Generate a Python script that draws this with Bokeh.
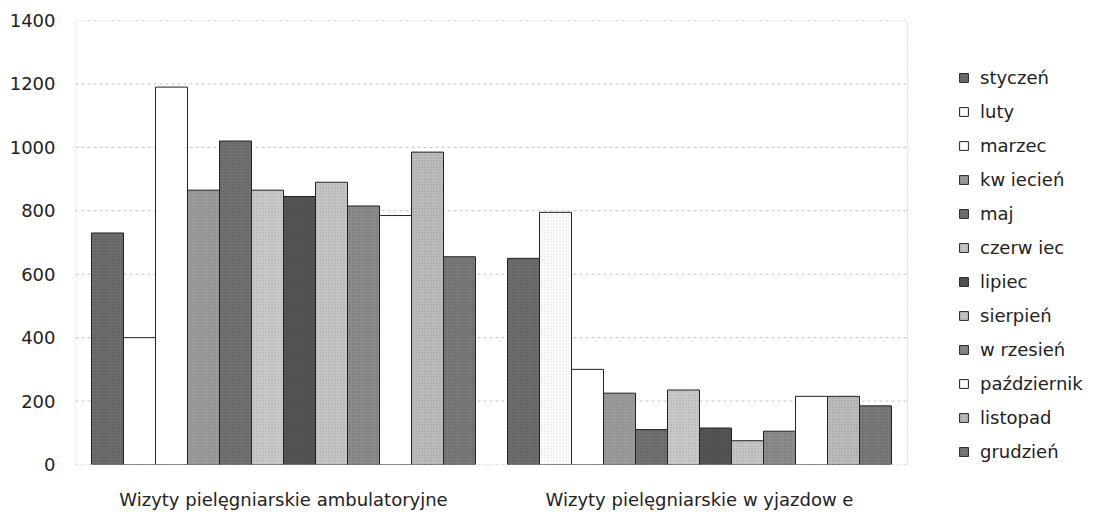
from bokeh.plotting import figure
from bokeh.models import ColumnDataSource, Legend, LegendItem, FixedTicker, Range1d
from bokeh.embed import file_html
from bokeh.resources import INLINE

categories = ["Wizyty pielęgniarskie ambulatoryjne", "Wizyty pielęgniarskie w yjazdow e"]
months = ["styczeń", "luty", "marzec", "kw iecień", "maj", "czerw iec", "lipiec",
          "sierpień", "w rzesień", "październik", "listopad", "grudzień"]
ambulatoryjne = [730, 400, 1190, 865, 1020, 865, 845, 890, 815, 785, 985, 655]
wyjazdowe = [650, 795, 300, 225, 110, 235, 115, 75, 105, 215, 215, 185]
y_ticks = [0, 200, 400, 600, 800, 1000, 1200, 1400]

colors = ["#6e6e6e", "#ffffff", "#ffffff", "#9c9c9c", "#727272", "#cacaca", "#545454",
          "#c6c6c6", "#8c8c8c", "#ffffff", "#bebebe", "#7a7a7a"]
speckle = ["#3c3c3c", "#c0c0c0", None, "#6a6a6a", "#444444", "#8a8a8a", "#333333",
           "#8a8a8a", "#5a5a5a", None, "#808080", "#4a4a4a"]
# texture strength per group (luty is plain in the first group, speckled in the second)
speckle_alpha = [[0.55, 0.55], [0.0, 0.6], [0, 0], [0.55, 0.55], [0.55, 0.55], [0.55, 0.55],
                 [0.55, 0.55], [0.55, 0.55], [0.55, 0.55], [0, 0], [0.55, 0.55], [0.55, 0.55]]

FONT = "DejaVu Sans"
W, H = 1087, 512
PX = 32.0                       # pixels per bar slot
X_END = (W - 75) / PX           # frame spans whole width right of the y labels
p = figure(width=W, height=H, output_backend="svg", toolbar_location=None,
           x_range=Range1d(0, X_END), y_range=Range1d(0, 1400),
           min_border_left=75, min_border_top=20, min_border_bottom=48, min_border_right=0)

n_slots = 2 * (len(months) + 1)   # 26 slots: chart area
group_centers = [6.5, 19.5]

# grid lines and dotted plot-area outline limited to the chart area
p.segment(x0=[0] * len(y_ticks), x1=[n_slots] * len(y_ticks), y0=y_ticks, y1=y_ticks,
          line_color="#9a9a9a", line_dash="3 3", line_alpha=0.6, line_width=1)
p.segment(x0=[0, n_slots], x1=[0, n_slots], y0=[0, 0], y1=[1400, 1400],
          line_color="#b0b0b0", line_dash="1 2", line_width=1)

series = [ambulatoryjne, wyjazdowe]
items = []
for i, m in enumerate(months):
    xs = [c - 6 + 0.5 + i for c in group_centers]
    ys = [s[i] for s in series]
    src = ColumnDataSource(dict(x=xs, top=ys, ha=speckle_alpha[i]))
    kw = {}
    if speckle[i]:
        kw = dict(hatch_pattern=".", hatch_color=speckle[i], hatch_scale=3,
                  hatch_alpha="ha")
    r = p.vbar(x="x", top="top", width=1.0, bottom=0, source=src,
               fill_color=colors[i], line_color="#222222", line_width=1, **kw)
    items.append(LegendItem(label=m, renderers=[r], index=0))

legend = Legend(items=items, location=(883, 2), padding=0, margin=0,
                glyph_width=11, glyph_height=11, label_height=20, spacing=13,
                label_standoff=11, label_text_font=FONT,
                label_text_font_size="18px", label_text_color="#222222",
                border_line_color=None, background_fill_alpha=0)
p.add_layout(legend, "center")

p.xaxis.ticker = FixedTicker(ticks=group_centers)
p.xaxis.major_label_overrides = {group_centers[k]: categories[k] for k in range(2)}
p.xaxis.axis_line_color = None
p.xaxis.major_tick_line_color = None
p.xaxis.minor_tick_line_color = None
p.xaxis.major_label_standoff = 18
p.xaxis.major_label_text_font = FONT
p.xaxis.major_label_text_font_size = "18px"
p.xaxis.major_label_text_color = "#222222"

p.yaxis.ticker = FixedTicker(ticks=y_ticks)
p.yaxis.axis_line_color = None
p.yaxis.major_tick_line_color = None
p.yaxis.minor_tick_line_color = None
p.yaxis.major_label_standoff = 14
p.yaxis.major_label_text_font = FONT
p.yaxis.major_label_text_font_size = "18px"
p.yaxis.major_label_text_color = "#222222"

p.xgrid.grid_line_color = None
p.ygrid.grid_line_color = None

p.outline_line_color = None
p.background_fill_color = "white"
p.border_fill_color = "white"

open("out.html", "w").write(file_html(p, INLINE))
